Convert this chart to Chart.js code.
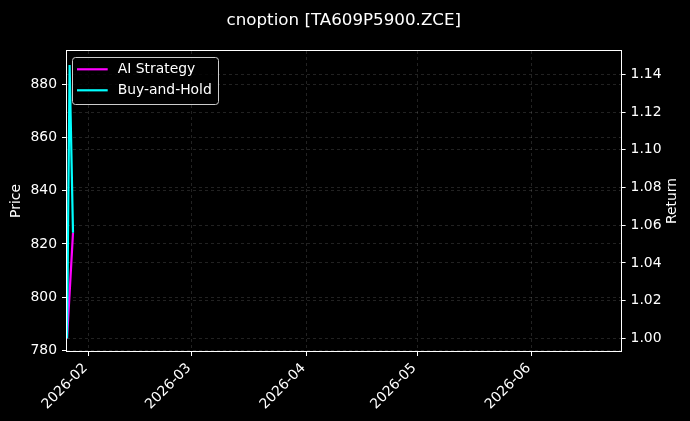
<!DOCTYPE html>
<html>
<head>
<meta charset="utf-8">
<script src="https://cdn.jsdelivr.net/npm/chart.js@4.4.1/dist/chart.umd.min.js"></script>
<style>
    html, body { margin: 0; padding: 0; background: #000; }
    canvas { display: block; }
</style>
</head>
<body>
<canvas id="chart" width="690" height="421"></canvas>
<script>
// values
const dates = ['2026-01-26T04:00:00Z', '2026-01-26T21:00:00Z', '2026-01-27T19:00:00Z'];
const aiStrategy = [1.000, 1.024, 1.056];
const buyAndHold = [1.000, 1.145, 1.056];

const monthLabels = ['2026-02', '2026-03', '2026-04', '2026-05', '2026-06'];
const priceTicks = [780, 800, 820, 840, 860, 880];
const returnTicks = [1.00, 1.02, 1.04, 1.06, 1.08, 1.10, 1.12, 1.14];

const xRange = ['2026-01-26T04:00:00Z', '2026-06-25T02:00:00Z'];
const priceRange = [779.8, 892.5];
const returnRange = [0.9933, 1.1524];

const FONT = 'DejaVu Sans';
const GRID = 'rgba(255,255,255,0.17)';

const toPoints = (values) => values.map((v, i) => ({ x: Date.parse(dates[i]), y: v }));

const tickFont = { family: FONT, size: 13.9 };

const gridOpts = {
    color: GRID,
    lineWidth: 0.8,
    tickColor: '#ffffff',
    tickLength: 5,
    tickWidth: 1,
};

const decorations = {
    id: 'decorations',
    afterDraw(chart) {
        const { ctx, chartArea: a } = chart;
        ctx.save();

        // axes frame, snapped to whole pixels so it stays crisp
        const l = Math.round(a.left) - 0.5;
        const t = Math.round(a.top) - 0.5;
        const r = Math.round(a.right) + 0.5;
        const b = Math.round(a.bottom) + 0.5;
        ctx.strokeStyle = '#ffffff';
        ctx.lineWidth = 1;
        ctx.strokeRect(l, t, r - l, b - t);

        // title
        ctx.fillStyle = '#ffffff';
        ctx.font = `16.7px "${FONT}"`;
        ctx.textAlign = 'center';
        ctx.textBaseline = 'alphabetic';
        ctx.fillText('cnoption [TA609P5900.ZCE]', (a.left + a.right) / 2, 24.5);

        // axis titles
        ctx.font = `13.9px "${FONT}"`;
        ctx.textBaseline = 'middle';
        const midY = (a.top + a.bottom) / 2;
        ctx.save();
        ctx.translate(16, midY);
        ctx.rotate(-Math.PI / 2);
        ctx.fillText('Price', 0, 0);
        ctx.restore();
        ctx.save();
        ctx.translate(672, midY);
        ctx.rotate(-Math.PI / 2);
        ctx.fillText('Return', 0, 0);
        ctx.restore();

        // legend
        const bx = 72.5, by = 57.5, bw = 146, bh = 47;
        ctx.beginPath();
        ctx.roundRect(bx, by, bw, bh, 3);
        ctx.fillStyle = 'rgba(0,0,0,0.8)';
        ctx.fill();
        ctx.strokeStyle = '#cccccc';
        ctx.lineWidth = 1;
        ctx.stroke();

        ctx.textAlign = 'left';
        chart.data.datasets.forEach((ds, i) => {
            const y = 69.3 + i * 21;
            ctx.strokeStyle = ds.borderColor;
            ctx.lineWidth = 2.2;
            ctx.beginPath();
            ctx.moveTo(77, y);
            ctx.lineTo(107.7, y);
            ctx.stroke();
            ctx.fillStyle = '#ffffff';
            ctx.fillText(ds.label, 117.7, y);
        });

        ctx.restore();
    },
};

new Chart(document.getElementById('chart'), {
    type: 'line',
    data: {
        datasets: [
            {
                label: 'AI Strategy',
                data: toPoints(aiStrategy),
                borderColor: '#ff00ff',
                borderWidth: 2.2,
                pointRadius: 0,
                tension: 0,
                yAxisID: 'ret',
                order: 1,
            },
            {
                label: 'Buy-and-Hold',
                data: toPoints(buyAndHold),
                borderColor: '#00ffff',
                borderWidth: 2.2,
                pointRadius: 0,
                tension: 0,
                yAxisID: 'ret',
                order: 0,
            },
        ],
    },
    options: {
        responsive: false,
        animation: false,
        events: [],
        layout: { padding: { top: 51, left: 0, right: 0, bottom: 0 } },
        plugins: {
            legend: { display: false },
            tooltip: { enabled: false },
            title: { display: false },
        },
        scales: {
            x: {
                type: 'linear',
                min: Date.parse(xRange[0]),
                max: Date.parse(xRange[1]),
                afterBuildTicks: (scale) => {
                    scale.ticks = monthLabels.map((m) => ({ value: Date.parse(m + '-01T00:00:00Z') }));
                },
                afterFit: (scale) => { scale.height = 70; },
                ticks: {
                    color: '#ffffff',
                    font: tickFont,
                    autoSkip: false,
                    minRotation: 45,
                    maxRotation: 45,
                    padding: 4,
                    labelOffset: -3,
                    callback: (value, index) => monthLabels[index],
                },
                grid: gridOpts,
                border: { display: false, dash: [3, 3] },
            },
            price: {
                type: 'linear',
                position: 'left',
                min: priceRange[0],
                max: priceRange[1],
                afterBuildTicks: (scale) => {
                    scale.ticks = priceTicks.map((v) => ({ value: v }));
                },
                afterFit: (scale) => { scale.width = 67; },
                ticks: {
                    color: '#ffffff',
                    font: tickFont,
                    padding: 5,
                    callback: (value) => String(value),
                },
                grid: gridOpts,
                border: { display: false, dash: [3, 3] },
            },
            ret: {
                type: 'linear',
                position: 'right',
                min: returnRange[0],
                max: returnRange[1],
                afterBuildTicks: (scale) => {
                    scale.ticks = returnTicks.map((v) => ({ value: v }));
                },
                afterFit: (scale) => { scale.width = 69.4; },
                ticks: {
                    color: '#ffffff',
                    font: tickFont,
                    padding: 5,
                    callback: (value) => Number(value).toFixed(2),
                },
                grid: gridOpts,
                border: { display: false, dash: [3, 3] },
            },
        },
    },
    plugins: [decorations],
});
</script>
</body>
</html>
